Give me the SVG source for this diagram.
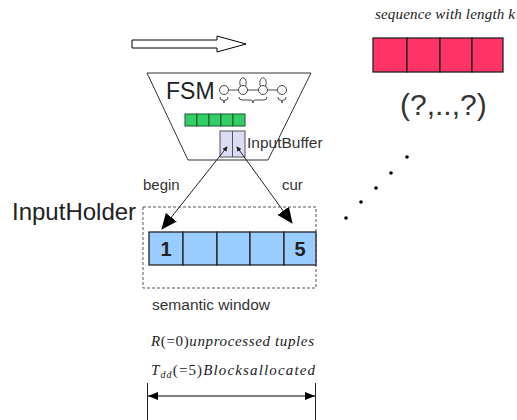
<svg xmlns="http://www.w3.org/2000/svg" width="517" height="420" viewBox="0 0 517 420">
  <defs>
    <marker id="bigHead" viewBox="0 0 16 14" markerWidth="16" markerHeight="14" refX="15" refY="7" orient="auto" markerUnits="userSpaceOnUse">
      <path d="M0,0 L16,7 L0,14 Z" fill="#000"/>
    </marker>
    <marker id="tinyHead" viewBox="0 0 6 6" markerWidth="5" markerHeight="5" refX="5" refY="3" orient="auto-start-reverse" markerUnits="userSpaceOnUse">
      <path d="M0,0 L6,3 L0,6 Z" fill="#222"/>
    </marker>
    <marker id="dimHead" viewBox="0 0 10 8" markerWidth="10" markerHeight="8" refX="10" refY="4" orient="auto-start-reverse" markerUnits="userSpaceOnUse">
      <path d="M0,0 L10,4 L0,8 Z" fill="#000"/>
    </marker>
  </defs>
  <style>
    .sans { font-family: "Liberation Sans", Arial, sans-serif; }
    .label { font-family: "Liberation Sans", Arial, sans-serif; fill: #333; }
    .math { font-family: "Liberation Serif", "Times New Roman", serif; fill: #222; font-size: 15px; }
    .cell { stroke: #222; stroke-width: 1.3; }
    .blue { fill: #99ccff; }
    .pink { fill: #ff3366; }
    .green { fill: #33cc66; stroke: #1a5a2a; stroke-width: 1; }
    .state { fill: #fff; stroke: #333; stroke-width: 0.9; }
    .thin { fill: none; stroke: #333; stroke-width: 0.9; }
  </style>

  <rect width="517" height="420" fill="#fff"/>

  <!-- hollow direction arrow -->
  <g id="flow-arrow">
    <polygon points="132,40 217,40 217,36 246,44 217,52 217,48 132,48" fill="#fff" stroke="#000" stroke-width="1"/>
  </g>

  <!-- FSM funnel with automaton, queue and input buffer -->
  <g id="fsm">
    <polygon points="147,73 311,73 268,160 188,160" fill="#fff" stroke="#333" stroke-width="1"/>
    <text class="sans" x="166" y="99" font-size="23" fill="#222">FSM</text>
    <g id="fsm-automaton">
      <line class="thin" x1="228.5" y1="90" x2="238.5" y2="90"/>
      <line class="thin" x1="247.5" y1="90" x2="258.5" y2="90"/>
      <line class="thin" x1="267.5" y1="90" x2="277.5" y2="90"/>
      <path class="thin" d="M240.5,86.5 C237,75 249,75 245.5,86.5"/>
      <path class="thin" d="M260.5,86.5 C257,75 269,75 265.5,86.5"/>
      <circle class="state" cx="224" cy="90" r="4.5"/>
      <circle class="state" cx="243" cy="90" r="4.5"/>
      <circle class="state" cx="263" cy="90" r="4.5"/>
      <circle class="state" cx="282" cy="90" r="4.5"/>
      <path class="thin" d="M220,97 Q220,100 222,100 L223,100 Q224,100 224,103 Q224,100 225,100 L226,100 Q228,100 228,97"/>
      <path class="thin" d="M239,97 Q239,100 242,100 L251,100 Q253,100 253,103 Q253,100 255,100 L264,100 Q267,100 267,97"/>
      <path class="thin" d="M278,97 Q278,100 280,100 L281,100 Q282,100 282,103 Q282,100 283,100 L284,100 Q286,100 286,97"/>
    </g>
    <g id="fsm-queue">
      <rect class="green" x="185" y="114" width="12" height="12"/>
      <rect class="green" x="197" y="114" width="12" height="12"/>
      <rect class="green" x="209" y="114" width="12" height="12"/>
      <rect class="green" x="221" y="114" width="12" height="12"/>
      <rect class="green" x="233" y="114" width="12" height="12"/>
    </g>
  </g>

  <g id="input-buffer">
    <rect x="220" y="131" width="25" height="26" fill="#dcdcf6" stroke="#555" stroke-width="1"/>
    <line x1="232.5" y1="131" x2="232.5" y2="157" stroke="#555" stroke-width="1"/>
    <text class="label" x="247" y="148" font-size="15.5">InputBuffer</text>
  </g>

  <!-- begin / cur pointers -->
  <g id="connectors">
    <line x1="227" y1="147" x2="162" y2="229" stroke="#222" stroke-width="1" marker-start="url(#tinyHead)" marker-end="url(#bigHead)"/>
    <line x1="237" y1="147" x2="292" y2="223" stroke="#222" stroke-width="1" marker-start="url(#tinyHead)" marker-end="url(#bigHead)"/>
  </g>
  <text class="label" x="143" y="190" font-size="15">begin</text>
  <text class="label" x="282" y="190" font-size="15">cur</text>

  <!-- input holder window -->
  <g id="input-holder">
    <text class="sans" x="12" y="220" font-size="24" fill="#222">InputHolder</text>
    <rect x="143" y="207" width="173" height="81" fill="none" stroke="#555" stroke-width="1" stroke-dasharray="3,2"/>
    <rect class="cell blue" x="149" y="232" width="34" height="33"/>
    <rect class="cell blue" x="183" y="232" width="34" height="33"/>
    <rect class="cell blue" x="217" y="232" width="33" height="33"/>
    <rect class="cell blue" x="250" y="232" width="34" height="33"/>
    <rect class="cell blue" x="284" y="232" width="32" height="33"/>
    <text class="sans" x="166" y="256" font-size="20" font-weight="bold" fill="#222" text-anchor="middle">1</text>
    <text class="sans" x="300" y="256" font-size="20" font-weight="bold" fill="#222" text-anchor="middle">5</text>
    <text class="label" x="152" y="310" font-size="15.5">semantic window</text>
  </g>

  <!-- counters and extent -->
  <g id="counters">
    <text class="math" x="151" y="346" textLength="163" lengthAdjust="spacing"><tspan font-style="italic">R</tspan><tspan>(=0)</tspan><tspan font-style="italic">unprocessed tuples</tspan></text>
    <text class="math" x="151" y="375" textLength="164" lengthAdjust="spacing"><tspan font-style="italic">T</tspan><tspan font-style="italic" font-size="10" dy="3">dd</tspan><tspan dy="-3">(=5)</tspan><tspan font-style="italic">Blocksallocated</tspan></text>
    <line x1="147.5" y1="383" x2="147.5" y2="420" stroke="#222" stroke-width="1"/>
    <line x1="315.5" y1="383" x2="315.5" y2="420" stroke="#222" stroke-width="1"/>
    <line x1="148" y1="396" x2="315" y2="396" stroke="#000" stroke-width="1.2" marker-start="url(#dimHead)" marker-end="url(#dimHead)"/>
  </g>

  <!-- pending sequence -->
  <g id="sequence">
    <text class="math" x="375" y="19" font-size="13" font-style="italic" textLength="140" lengthAdjust="spacing">sequence with length k</text>
    <rect class="cell pink" x="373" y="38" width="34" height="34"/>
    <rect class="cell pink" x="407" y="38" width="33" height="34"/>
    <rect class="cell pink" x="440" y="38" width="32" height="34"/>
    <rect class="cell pink" x="472" y="38" width="31" height="34"/>
    <text class="label" x="400" y="115" font-size="30">(?,..,?)</text>
  </g>

  <g id="ellipsis" fill="#000">
    <circle cx="346" cy="218" r="1.8"/>
    <circle cx="361" cy="202" r="1.8"/>
    <circle cx="376" cy="188" r="1.8"/>
    <circle cx="391" cy="173" r="1.8"/>
    <circle cx="407" cy="157" r="1.8"/>
  </g>
</svg>
